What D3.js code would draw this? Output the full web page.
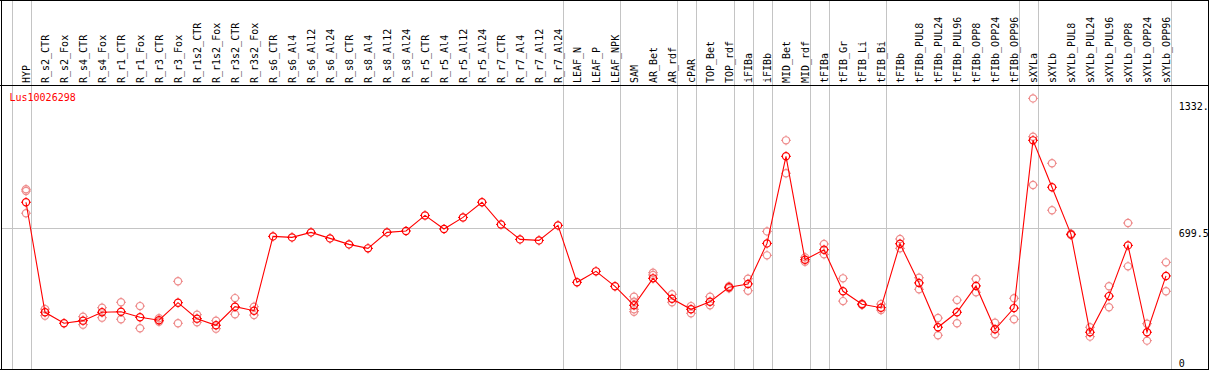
<!DOCTYPE html>
<html>
<head>
<meta charset="utf-8">
<script src="https://cdn.jsdelivr.net/npm/d3@7"></script>
<style>
  body { margin: 0; background: #fff; }
  svg { display: block; font-family: "DejaVu Sans Mono", monospace; font-size: 10px; }
</style>
</head>
<body>
<div class="container"></div>
<script>
/********** the Data **********/
let samples = ["HYP","R_s2_CTR","R_s2_Fox","R_s4_CTR","R_s4_Fox","R_r1_CTR","R_r1_Fox","R_r3_CTR","R_r3_Fox",
  "R_r1s2_CTR","R_r1s2_Fox","R_r3s2_CTR","R_r3s2_Fox","R_s6_CTR","R_s6_Al4","R_s6_Al12","R_s6_Al24",
  "R_s8_CTR","R_s8_Al4","R_s8_Al12","R_s8_Al24","R_r5_CTR","R_r5_Al4","R_r5_Al12","R_r5_Al24",
  "R_r7_CTR","R_r7_Al4","R_r7_Al12","R_r7_Al24","LEAF_N","LEAF_P","LEAF_NPK","SAM","AR_Bet","AR_rdf",
  "cPAR","TOP_Bet","TOP_rdf","iFIBa","iFIBb","MID_Bet","MID_rdf","tFIBa","tFIB_Gr","tFIB_Li","tFIB_Bi",
  "tFIBb","tFIBb_PUL8","tFIBb_PUL24","tFIBb_PUL96","tFIBb_OPP8","tFIBb_OPP24","tFIBb_OPP96",
  "sXYLa","sXYLb","sXYLb_PUL8","sXYLb_PUL24","sXYLb_PUL96","sXYLb_OPP8","sXYLb_OPP24","sXYLb_OPP96"];

// mean expression per sample
let means = [830,279,224,237,279,282,254,239,327,247,214,307,287,
  659,654,679,649,619,599,679,686,764,696,754,830,719,644,639,714,
  429,484,409,314,449,347,294,332,404,421,624,1060,542,592,384,319,302,
  622,426,204,279,411,194,300,1140,905,669,179,360,614,179,461];

// individual replicates (pink circles)
let replicates = [
  [895,886,775],[295,262],[],[257,217],[302,252],[329,244],[310,199],[249,232],[434,224],
  [267,229],[237,197],[350,269],[307,265],
  [],[],[],[],[],[],[],[],[],[],[],[],[],[],[],[],
  [],[],[],[357,332,294,282],[477,466],[369,329],[310,274],[357,314],[409,399],[447,387],
  [684,564],[1140,975],[554,532],[621,569],[449,335],[322,316],[320,290],
  [646,599],[452,394],[250,164],[340,224],[446,379],[227,169],[349,244],
  [1350,1158,916],[1025,790],[672,666],[204,157],[409,304],[726,509],[222,137],[529,384]];

// first sample of each group (vertical separators)
let groupStarts = ["HYP","R_s2_CTR","LEAF_N","SAM","cPAR","TOP_Bet","iFIBa","iFIBb",
  "MID_Bet","tFIBa","tFIB_Gr","tFIBb","sXYLa","sXYLb"];

let tickValues = [0, 699.5, 1332.9];
let tickLabels = ["0", "699.5", "1332."];
let geneName = "Lus10026298";

/********** drawChart **********/
function drawChart() {
  let width = 1209, height = 370;
  let headerBottom = 85;
  let step = 19;
  let left = 11.7;
  let ptOff = 14.3;

  let xScale = d3.scaleBand()
    .domain(samples)
    .range([left, left + samples.length * step])
    .padding(0);
  let plotRight = left + samples.length * step;

  let yScale = d3.scaleLinear()
    .domain([0, 1399])
    .range([368, 88.6]);

  let cx = d => xScale(d) + ptOff;

  let svg = d3.select(".container").append("svg")
    .attr("width", width)
    .attr("height", height);

  // horizontal grid line at mid tick
  svg.append("line")
    .attr("x1", 1).attr("x2", plotRight)
    .attr("y1", Math.round(yScale(699.5)) + 0.5).attr("y2", Math.round(yScale(699.5)) + 0.5)
    .attr("stroke", "#c4c4c4");

  // vertical group separators
  let sepX = groupStarts.map(g => xScale(g)).concat([plotRight]);
  svg.selectAll(".sep").data(sepX).join("line")
    .attr("class", "sep")
    .attr("x1", d => Math.round(d) + 0.5).attr("x2", d => Math.round(d) + 0.5)
    .attr("y1", 0).attr("y2", height)
    .attr("stroke", "#c4c4c4");

  // frame
  let frame = "#000";
  svg.append("line").attr("x1", 0).attr("x2", width).attr("y1", 0.5).attr("y2", 0.5).attr("stroke", frame);
  svg.append("line").attr("x1", 0).attr("x2", width).attr("y1", headerBottom + 0.5).attr("y2", headerBottom + 0.5).attr("stroke", frame);
  svg.append("line").attr("x1", 0).attr("x2", width).attr("y1", 369.5).attr("y2", 369.5).attr("stroke", frame);
  svg.append("line").attr("x1", 1.5).attr("x2", 1.5).attr("y1", 0).attr("y2", height).attr("stroke", frame);
  svg.append("line").attr("x1", 1208.5).attr("x2", 1208.5).attr("y1", 0).attr("y2", height).attr("stroke", frame);

  // column labels
  svg.selectAll(".col-label").data(samples).join("text")
    .attr("class", "col-label")
    .attr("transform", d => `translate(${cx(d) + 4},83) rotate(-90)`)
    .attr("fill", "#000")
    .text(d => d);

  // y axis on the right
  let yAxis = d3.axisRight(yScale)
    .tickValues(tickValues)
    .tickFormat((d, i) => tickLabels[i])
    .tickSize(0)
    .tickPadding(8);
  let ax = svg.append("g")
    .attr("class", "y-axis")
    .attr("transform", `translate(${plotRight},0)`)
    .call(yAxis);
  ax.select(".domain").remove();
  ax.selectAll("text")
    .attr("font-family", "DejaVu Sans Mono, monospace")
    .attr("font-size", 10)
    .attr("fill", "#000")
    .attr("dy", d => d === 0 ? "-0.2em" : "0.8em");

  // gene name
  svg.append("text")
    .attr("x", 9.5).attr("y", 101)
    .attr("fill", "#ff0000")
    .text(geneName);

  // replicate circles
  let repPts = [];
  samples.forEach((s, i) => replicates[i].forEach(v => repPts.push({s: s, v: v})));
  let marker = (sel, color) => {
    sel.append("circle").attr("r", 3.6).attr("fill", "none").attr("stroke", color).attr("stroke-width", 1.2);
    [[0,-1],[0,1],[-1,0],[1,0]].forEach(([dx, dy]) => {
      sel.append("line")
        .attr("x1", dx * 3.6).attr("y1", dy * 3.6)
        .attr("x2", dx * 5).attr("y2", dy * 5)
        .attr("stroke", color).attr("stroke-width", 1);
    });
  };
  let reps = svg.selectAll(".rep").data(repPts).join("g")
    .attr("class", "rep")
    .attr("transform", d => `translate(${cx(d.s)},${yScale(d.v)})`);
  marker(reps, "#ee8c8c");

  // mean line
  let lineGen = d3.line()
    .x((d, i) => cx(samples[i]))
    .y(d => yScale(d));
  svg.append("path")
    .datum(means)
    .attr("d", lineGen)
    .attr("fill", "none")
    .attr("stroke", "#ff0000")
    .attr("stroke-width", 1.1);

  let mpts = svg.selectAll(".mean").data(means).join("g")
    .attr("class", "mean")
    .attr("transform", (d, i) => `translate(${cx(samples[i])},${yScale(d)})`);
  marker(mpts, "#ff0000");
}

drawChart();
</script>
</body>
</html>
